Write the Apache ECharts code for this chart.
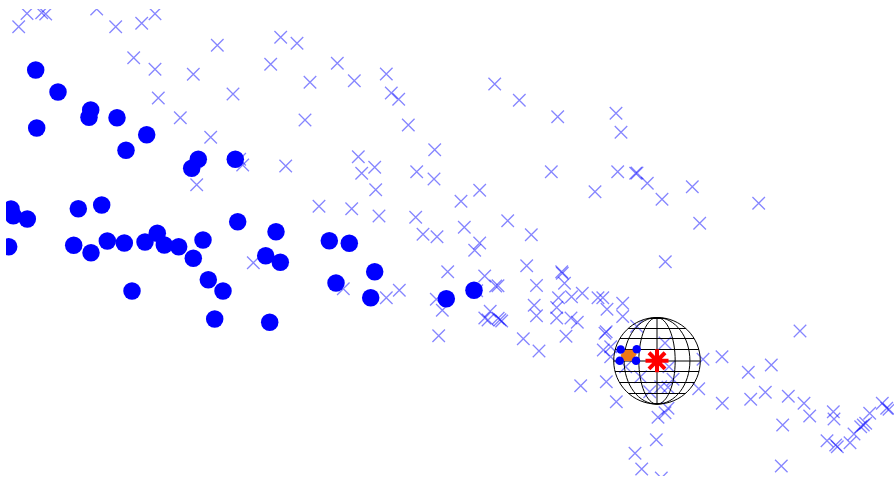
<!DOCTYPE html>
<html><head><meta charset="utf-8">
<style>html,body{margin:0;padding:0;background:#fff}#c{width:894px;height:481px}</style>
<script src="https://cdn.jsdelivr.net/npm/echarts@6/dist/echarts.min.js"></script>
</head><body><div id="c"></div>
<script>
const crosses = [
[27,13.5],[41.7,12.7],[45.7,14],[18.7,26.7],[96.7,9],[115.7,26.7],[141.7,23.3],[155,13.7],[217.3,45.3],[280.7,37.3],[297,43.3],[270.7,64.3],[133.7,57.7],[155,69.3],[193.3,74.3],[158.3,98],[233,94],[180.3,117.7],[210.7,137.3],[305,120],[242.7,165],[239.7,159.3],[285.7,166],[196.7,184.7],[253.3,262.7],
[337.3,63.3],[310,82.3],[354.3,80.7],[386.3,74],[391.3,93],[398.7,99.3],[408.3,125],[434.7,149.7],[358.3,156.7],[374.7,167.3],[361.7,173.3],[416.7,171.7],[434,179],[375.7,189.7],[479.7,190.3],[461,201.3],[319,206.3],[351.7,208.7],[379,216],[415.7,217.3],[464.3,227.3],[507.7,220.7],[423,234.3],[437,236.7],[531.3,234.7],[479.7,243],[494.7,84],[519.3,100.3],[557.7,116.7],[551.3,171.7],[595,191.7],
[474.7,250.3],[526.7,265.7],[561.7,271.7],[562.3,273.3],[447.7,271.7],[484.7,276],[564.5,283.3],[536.5,285.5],[495.7,286],[498,285.7],[399.3,290.3],[343.3,288.7],[386.3,297.7],[436.3,299.3],[476.7,290.7],[558.5,297.8],[571.5,296.7],[582.3,293.3],[598,297.7],[602.8,297.7],[534.2,305.2],[556.7,307.5],[442.3,310.3],[490.2,311.3],[536.5,315.7],[556.7,318],[571,318],[577.3,322.2],[484.8,318],[488,320],[500,319.7],[501.7,321],[498.2,318.3],[438.7,335.7],[523.3,338.8],[566,336.2],[539,351],[580.7,385.7],
[616,113.3],[621,132.3],[617.7,171.7],[635.7,173.3],[637,173],[647.3,183.3],[662,199.3],[692.3,186.7],[758.7,203.3],[699.7,223.3],[665.3,261.7],[622.7,303.3],[607,309.3],[622.7,316.5],[606.2,331.7],[800,331],[636.7,326.3],[605,333.3],[603.3,350],[610.7,346.7],[610.7,356.7],[606.3,381.7],[616.3,401.7],[665,343],[669,366.7],[703,359.3],[722,356.7],[748.3,372.3],[771.3,365],[698.7,388.7],[673,379.3],[668,387.3],[660.7,386.7],[649.7,391.7],[640.5,376.7],[625.7,366.7],[722.3,403.3],[750.7,399.3],[765.3,392.3],[788.3,396.3],[804,403.3],[809.7,416],[782.7,425],[833.3,411.7],[834,419],[827,440.7],[835.7,445],[837.3,446.7],[850,442.7],[854,434],[860.7,426.7],[863.3,425],[865.7,423.3],[869.7,413.3],[882.3,403.3],[886.7,408.3],[889,409.3],[668,408.3],[665,412.7],[658,417.3],[656.3,439.7],[635,453.3],[641.7,469],[661.3,478],[781.3,466]
];
const dots = [
[35.7,70],[58,92],[90.7,110],[89,117.3],[117,117.7],[36.7,128],[146.7,134.7],[126,150.3],[198.3,159.3],[191.7,168.3],[235.3,159.3],[11,209],[13.3,215.7],[27.3,219],[78.3,208.7],[101.7,205],[237.7,221.7],[276,231.7],[8.7,246.7],[73.7,245.3],[91,252.7],[107.3,241],[124.3,243],[145,242],[157.3,233.3],[164.3,245],[178.7,246.7],[203,240],[193.3,258.3],[208.3,279.7],[223,291],[132,291],[214.7,319],[269.7,322.3],[265.7,255.7],[280.3,262.3],[329.3,240.7],[349.3,243.3],[374.7,271.7],[336,283],[370.7,297.7],[446.3,298.7],[474,290.3]
];
const smallDots = [[620.7,349.5],[636.7,349.2],[619.7,360.7],[636,360.7]];
const hexagon = [[620.7,354.7],[625.7,349.7],[634,349.7],[636.7,354.3],[632,361],[622,361]];
const star = [[657,360.8]];
const sphereCenter = [657,360.8];
const sphereRadius = 43.3;
const meridianFractions = [1,0.76,0.42,0];
const parallelYs = [318.5,328.5,338.5,349.5,361,371.5,382.5,393.5,403.5];
const plotLeft = 6, plotTop = 9, plotBottom = 476;

function sphereItem(params, api){
  const c = api.coord(sphereCenter);
  const r = api.size([sphereRadius,sphereRadius]);
  const rx = r[0], ry = r[1];
  const style = {fill:'none',stroke:'#000',lineWidth:1};
  const children = [];
  meridianFractions.forEach(f=>{
    if(f===0){children.push({type:'line',shape:{x1:c[0],y1:c[1]-ry,x2:c[0],y2:c[1]+ry},style});}
    else children.push({type:'ellipse',shape:{cx:c[0],cy:c[1],rx:rx*f,ry:ry},style});
  });
  parallelYs.forEach(y=>{
    const d = y-sphereCenter[1];
    const h = Math.sqrt(sphereRadius*sphereRadius-d*d);
    const a = api.coord([sphereCenter[0]-h,y]);
    const b = api.coord([sphereCenter[0]+h,y]);
    children.push({type:'line',shape:{x1:a[0],y1:a[1],x2:b[0],y2:b[1]},style});
  });
  return {type:'group',children};
}
function hexItem(params, api){
  return {type:'polygon',shape:{points:hexagon.map(p=>api.coord(p))},style:{fill:'#f07818',stroke:'none'}};
}

const chart = echarts.init(document.getElementById('c'),null,{renderer:'canvas'});
chart.setOption({
  animation:false,
  backgroundColor:'#fff',
  grid:{left:0,right:0,top:0,bottom:0},
  xAxis:{type:'value',min:0,max:894,show:false},
  yAxis:{type:'value',min:0,max:481,inverse:true,show:false},
  tooltip:{show:false},
  graphic:[
    {type:'rect',z:100,shape:{x:0,y:0,width:plotLeft,height:481},style:{fill:'#fff'}},
    {type:'rect',z:100,shape:{x:0,y:0,width:894,height:plotTop},style:{fill:'#fff'}},
    {type:'rect',z:100,shape:{x:0,y:plotBottom,width:894,height:481-plotBottom},style:{fill:'#fff'}}
  ],
  series:[
    {type:'scatter',z:2,data:crosses,symbol:'path://M0 0L10 10M10 0L0 10',symbolSize:12.5,
     itemStyle:{color:'none',borderColor:'#0000ff',borderWidth:1.3,opacity:.48},silent:true},
    {type:'custom',z:3,data:[sphereCenter],renderItem:sphereItem,silent:true,clip:false},
    {type:'scatter',z:4,data:dots,symbol:'circle',symbolSize:17.5,itemStyle:{color:'#0000ff',opacity:1},silent:true},
    {type:'custom',z:5,data:[hexagon[0]],renderItem:hexItem,silent:true},
    {type:'scatter',z:6,data:smallDots,symbol:'circle',symbolSize:8.5,itemStyle:{color:'#0000ff',opacity:1},silent:true},
    {type:'scatter',z:7,data:star,symbol:'path://M0 -10L0 10M-10 0L10 0M-7 -7L7 7M-7 7L7 -7',symbolSize:23,
     itemStyle:{color:'none',borderColor:'#ff0000',borderWidth:4,opacity:1},silent:true}
  ]
});
</script></body></html>
